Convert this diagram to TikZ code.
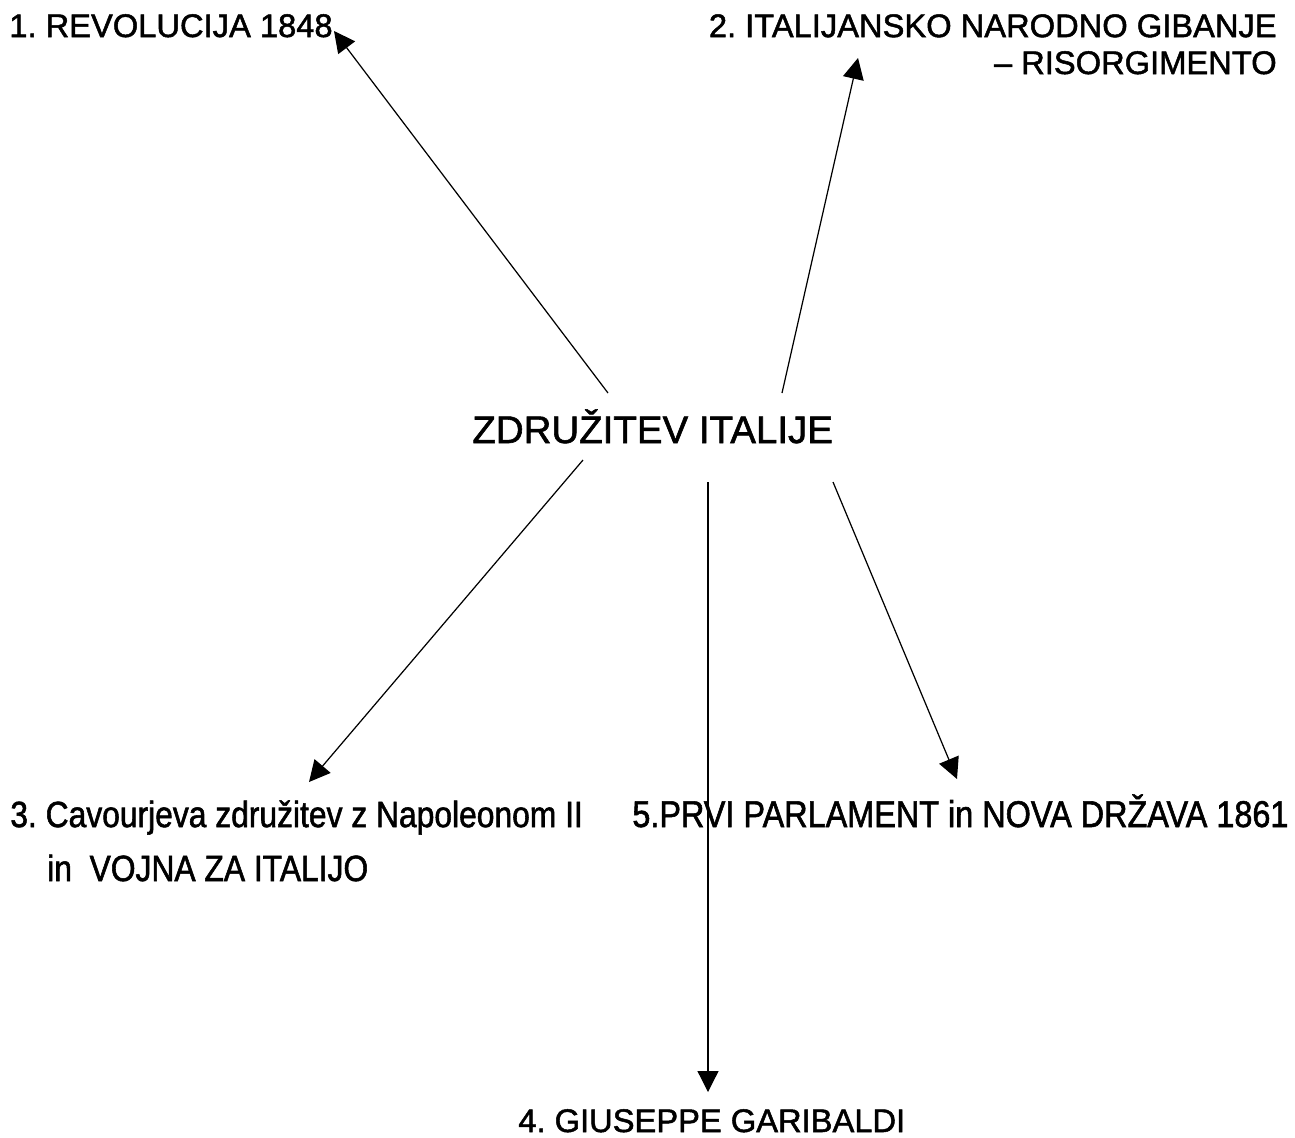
\documentclass[tikz,border=0pt]{standalone}
\usepackage{fontspec}
\setmainfont{Liberation Sans}[FakeBold=1.5]
\newfontfamily\narrowfont{Liberation Sans}[FakeStretch=0.87,FakeBold=1.5]
\usetikzlibrary{arrows.meta}

\begin{document}
\frenchspacing
\begin{tikzpicture}[x=0.02cm, y=-0.02cm,
		label_style/.style={inner sep=0pt,font=\fontsize{18.6pt}{21pt}\selectfont},
		narrow_style/.style={inner sep=0pt,font=\narrowfont\fontsize{20.8pt}{30.7pt}\selectfont},
		title_style/.style={inner sep=0pt,font=\fontsize{21.9pt}{25pt}\selectfont},
		edge_style/.style={draw=black,line width=0.7pt,-{Triangle[length=0.42cm,width=0.42cm]}}]

	\useasboundingbox (0,0) rectangle (1295,1137);

	\node[title_style,anchor=base west] (n0) at (472,443) {ZDRUŽITEV ITALIJE};
		\node[label_style,anchor=base west] (n1) at (9,37) {1. REVOLUCIJA 1848};
		\node[label_style,anchor=base east,align=right] (n2) at (1277,74) {2. ITALIJANSKO NARODNO GIBANJE\\– RISORGIMENTO};
		\node[narrow_style,anchor=base west,align=left] (n3) at (10,881) {3. Cavourjeva združitev z Napoleonom II\\\hspace*{21pt}in\ \ VOJNA ZA ITALIJO};
		\node[label_style,anchor=base west] (n4) at (518,1132) {4. GIUSEPPE GARIBALDI};
		\node[narrow_style,anchor=base west,font=\narrowfont\fontsize{21.2pt}{25pt}\selectfont] (n5) at (632,827) {5.PRVI PARLAMENT in NOVA DRŽAVA 1861};

	% start and end points of the arrows
		\coordinate (s1) at (608,393);
		\coordinate (t1) at (334,31);
		\coordinate (s2) at (782,393);
		\coordinate (t2) at (858,58);
		\coordinate (s3) at (583,460);
		\coordinate (t3) at (309,782);
		\coordinate (s4) at (708,482);
		\coordinate (t4) at (708,1092);
		\coordinate (s5) at (833,482);
		\coordinate (t5) at (957,779);

		\draw[edge_style]  (s1) -- (t1);
		\draw[edge_style]  (s2) -- (t2);
		\draw[edge_style]  (s3) -- (t3);
		\draw[edge_style]  (s4) -- (t4);
		\draw[edge_style]  (s5) -- (t5);
\end{tikzpicture}
\end{document}
